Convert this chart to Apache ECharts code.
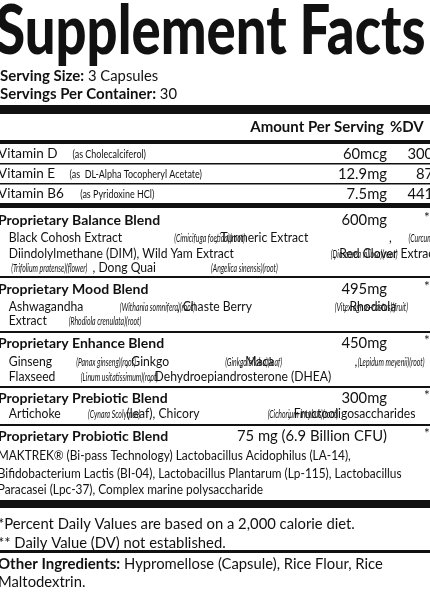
<!DOCTYPE html>
<html><head><meta charset="utf-8">
<script src="https://cdn.jsdelivr.net/npm/echarts@6/dist/echarts.min.js"></script>
<style>html,body{margin:0;padding:0;background:#fff}#c{width:430px;height:602px}</style>
</head><body><div id="c"></div>
<script>
const title = "Supplement Facts";
const servingInfo = [["Serving Size:", " 3 Capsules"], ["Servings Per Container:", " 30"]];
const header = ["Amount Per Serving", "%DV"];
const vitamins = [
  ["Vitamin D", " (as Cholecalciferol)", "60mcg", "300%"],
  ["Vitamin E", " (as  DL-Alpha Tocopheryl Acetate)", "12.9mg", "87%"],
  ["Vitamin B6", " (as Pyridoxine HCl)", "7.5mg", "441%"]
];
const blends = [
  ["Proprietary Balance Blend", "600mg", [
    "Black Cohosh Extract {i|(Cimicifuga foetida)(root)}, Turmeric Extract {i|(Curcuma longa)(root)},",
    "Diindolylmethane (DIM), Wild Yam Extract {i|(Dioscorea villosa)(root)}, Red Clover Extract",
    "{i|(Trifolium pratense)(flower)}, Dong Quai {i|(Angelica sinensis)(root)}"]],
  ["Proprietary Mood Blend", "495mg", [
    "Ashwagandha {i|(Withania somnifera)(root)}, Chaste Berry {i|(Vitex agnus-castus)(fruit)}, Rhodiola",
    "Extract {i|(Rhodiola crenulata)(root)}"]],
  ["Proprietary Enhance Blend", "450mg", [
    "Ginseng {i|(Panax ginseng)(root)}, Ginkgo {i|(Ginkgo biloba)(leaf)}, Maca {i|(Lepidum meyenii)(root)},",
    "Flaxseed {i|(Linum usitatissimum)(root)}, Dehydroepiandrosterone (DHEA)"]],
  ["Proprietary Prebiotic Blend", "300mg", [
    "Artichoke {i|(Cynara Scolymus)}(leaf), Chicory {i|(Cichorium intybus)(root)}, Fructooligosaccharides"]],
  ["Proprietary Probiotic Blend", "75 mg (6.9 Billion CFU)", [
    "MAKTREK® (Bi-pass Technology) Lactobacillus Acidophilus (LA-14),",
    "Bifidobacterium Lactis (BI-04), Lactobacillus Plantarum (Lp-115), Lactobacillus",
    "Paracasei (Lpc-37), Complex marine polysaccharide"]]
];
const footnotes = ["*Percent Daily Values are based on a 2,000 calorie diet.", "** Daily Value (DV) not established."];
const otherIngredients = ["Other Ingredients:", " Hypromellose (Capsule), Rice Flour, Rice", "Maltodextrin."];

const F = "Lato, 'Open Sans', sans-serif";
const C = '#111';
const ctx = document.createElement('canvas').getContext('2d');
const styles = {
  b: {fontWeight: 'bold', fontSize: 14, fontStyle: 'normal', sx: 1},
  B: {fontWeight: 'bold', fontSize: 15, fontStyle: 'normal', sx: 1},
  r: {fontWeight: 'normal', fontSize: 13.5, fontStyle: 'normal', sx: 1},
  R: {fontWeight: 'normal', fontSize: 14.8, fontStyle: 'normal', sx: 1},
  q: {fontWeight: 'normal', fontSize: 13.5, fontStyle: 'normal', sx: 0.9},
  p: {fontWeight: 'normal', fontSize: 13.5, fontStyle: 'normal', sx: 0.88},
  s: {fontWeight: 'normal', fontSize: 11.5, fontStyle: 'normal', sx: 0.78},
  i: {fontWeight: 'normal', fontSize: 11.5, fontStyle: 'italic', sx: 0.6}
};
const g = [];
function seg(x, y, text, st, align) {
  g.push({type: 'text', x, y, scaleX: st.sx, originX: x, originY: y,
    style: {text, align: align || 'left', verticalAlign: 'middle', fontFamily: F, fontSize: st.fontSize, fontWeight: st.fontWeight, fontStyle: st.fontStyle, fill: C}});
}
function width(text, st) {
  ctx.font = st.fontStyle + ' ' + st.fontWeight + ' ' + st.fontSize + 'px ' + F;
  return ctx.measureText(text).width * st.sx;
}
// line: array of [styleKey, text]
function line(x, y, parts, align) {
  const total = parts.reduce((a, p) => a + width(p[1], styles[p[0]]), 0);
  let cx = align === 'right' ? x - total : x;
  parts.forEach(p => { seg(cx, y, p[1], styles[p[0]]); cx += width(p[1], styles[p[0]]); });
}
function parse(ln, base) {
  return ln.split(/(\{i\|[^}]*\})/).filter(Boolean).map(p => p.startsWith('{i|') ? ['i', p.slice(3, -1)] : [base, p]);
}
function bar(y, h) { g.push({type: 'rect', shape: {x: 0, y, width: 430, height: h}, style: {fill: C}}); }

g.push({type: 'text', x: -4, y: 32, scaleX: 0.8, originX: -4, originY: 32,
  style: {text: title, fontFamily: F, fontWeight: 900, fontSize: 68, fill: C, verticalAlign: 'middle'}});
line(0, 76, [['B', servingInfo[0][0]], ['R', servingInfo[0][1]]]);
line(0, 94, [['B', servingInfo[1][0]], ['R', servingInfo[1][1]]]);
bar(105, 9);
line(384, 127, [['B', header[0]]], 'right');
line(390, 127, [['B', header[1]]]);
bar(140, 4);
let y = 154;
vitamins.forEach((v, k) => {
  line(-2, y, [['r', v[0]], ['s', v[1]]]);
  line(387, y, [['R', v[2]]], 'right');
  line(445, y, [['R', v[3]]], 'right');
  if (k < 2) bar(y + 9, 1.5);
  y += 20;
});
bar(203, 5);
const blendY = [220, 289, 343, 398, 436];
const subGap = [[18, 34, 48], [18, 32], [19, 34], [16], [20, 38, 54]];
const lineY = [276, 331, 386, 424];
blends.forEach((b, k) => {
  const by = blendY[k];
  line(-2, by, [['b', b[0]]]);
  line(387, by, [['R', b[1]]], 'right');
  seg(424, by - 2, '*', styles.r);
  b[2].forEach((ln, j) => {
    line(k === 4 ? -2 : 8, by + subGap[k][j], parse(ln, k === 4 ? 'p' : 'q'));
  });
  if (k < 4) bar(lineY[k], 2);
});
bar(500, 8);
line(-2, 524, [['R', footnotes[0]]]);
line(-2, 543, [['R', footnotes[1]]]);
bar(550, 3);
line(-2, 564, [['B', otherIngredients[0]], ['R', otherIngredients[1]]]);
line(-2, 582, [['R', otherIngredients[2]]]);

const chart = echarts.init(document.getElementById('c'));
chart.setOption({backgroundColor: '#fff', animation: false, graphic: g});
</script></body></html>
